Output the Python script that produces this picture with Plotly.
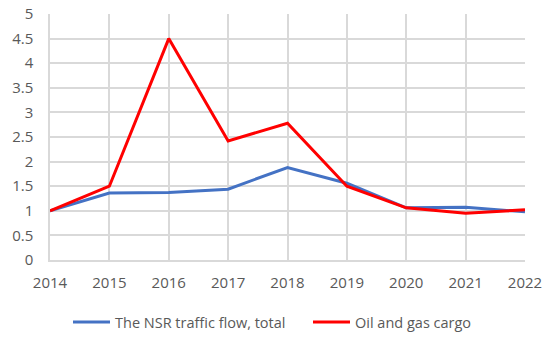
import plotly.graph_objects as go

years = [2014, 2015, 2016, 2017, 2018, 2019, 2020, 2021, 2022]
nsr_total = [1.0, 1.36, 1.37, 1.44, 1.88, 1.56, 1.06, 1.07, 0.98]
oil_gas = [1.0, 1.5, 4.5, 2.42, 2.78, 1.50, 1.06, 0.95, 1.02]
y_ticks = [0, 0.5, 1, 1.5, 2, 2.5, 3, 3.5, 4, 4.5, 5]

fig = go.Figure()
fig.add_trace(go.Scatter(x=years, y=nsr_total, mode="lines", name="The NSR traffic flow, total",
                         line=dict(color="#4472C4", width=3), legend="legend"))
fig.add_trace(go.Scatter(x=years, y=oil_gas, mode="lines", name="Oil and gas cargo",
                         line=dict(color="#FF0000", width=3), legend="legend2"))

leg_common = dict(orientation="h", xanchor="left", xref="container",
                  y=15 / 337, yanchor="middle", yref="container",
                  font=dict(size=14.5, color="#595959"), itemwidth=37)

fig.update_layout(
    width=550, height=337,
    margin=dict(l=50, r=25, t=14, b=77, autoexpand=False),
    paper_bgcolor="white", plot_bgcolor="white",
    font=dict(family="Open Sans, Lato, sans-serif", size=15, color="#595959"),
    showlegend=True,
    legend=dict(x=68 / 550, **leg_common),
    legend2=dict(x=308 / 550, **leg_common),
    xaxis=dict(range=[2014, 2022], tickvals=years, ticktext=[str(y) for y in years],
               showgrid=True, gridcolor="#D9D9D9", gridwidth=1.5, zeroline=False,
               showline=True, linecolor="#D9D9D9", linewidth=1.5, ticks="",
               ticklabelstandoff=8, automargin=False),
    yaxis=dict(range=[0, 5], tickvals=y_ticks, ticktext=[f"{v:g}" for v in y_ticks],
               showgrid=True, gridcolor="#D9D9D9", gridwidth=1.5, zeroline=False,
               showline=True, linecolor="#D9D9D9", linewidth=1.5, ticks="",
               ticklabelstandoff=12, automargin=False),
)

fig.write_html("out.html", config={"displayModeBar": False},
               post_script="document.body.style.margin='0';")
